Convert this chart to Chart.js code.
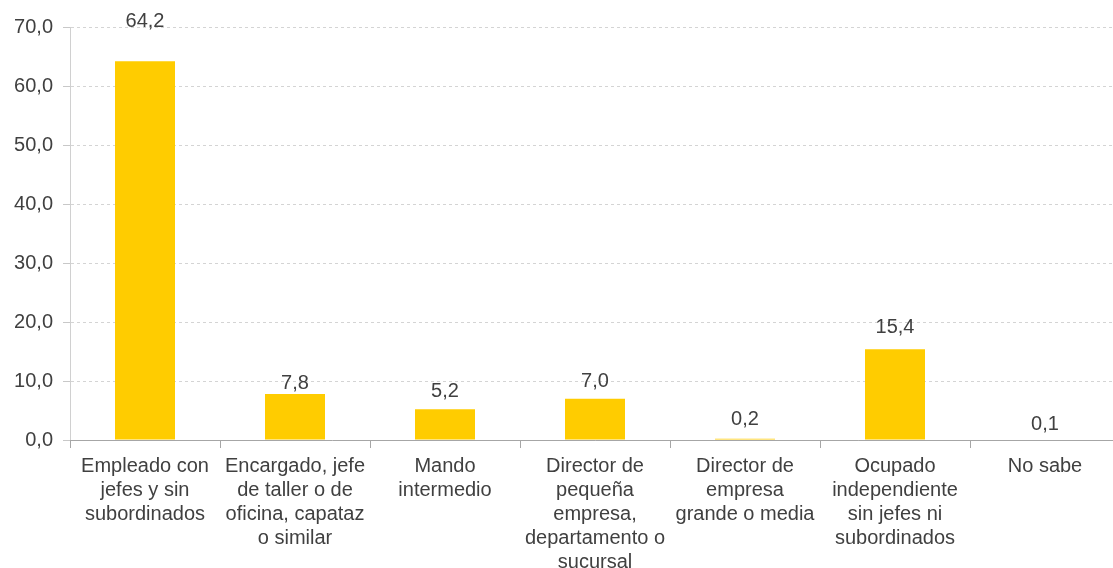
<!DOCTYPE html>
<html>
<head>
<meta charset="utf-8">
<script src="https://cdn.jsdelivr.net/npm/chart.js@4"></script>
<style>
    html, body { margin: 0; padding: 0; background: #fff; overflow: hidden; }
    #wrap { width: 1120px; height: 568px; position: relative; }
</style>
</head>
<body>
<div id="wrap"><canvas id="puestoChart"></canvas></div>
<script>
const categories = [
    ["Empleado con", "jefes y sin", "subordinados"],
    ["Encargado, jefe", "de taller o de", "oficina, capataz", "o similar"],
    ["Mando", "intermedio"],
    ["Director de", "pequeña", "empresa,", "departamento o", "sucursal"],
    ["Director de", "empresa", "grande o media"],
    ["Ocupado", "independiente", "sin jefes ni", "subordinados"],
    ["No sabe"],
];
const values = [64.2, 7.8, 5.2, 7.0, 0.2, 15.4, 0.1];
const yTicks = [0, 10, 20, 30, 40, 50, 60, 70];

// gap between bar top and label baseline, as placed in the original
const labelGap = [34, 5, 12, 12, 14, 16, 9];

const FONT = "'Liberation Sans', Arial, sans-serif";
const TEXT = "#404040";
const fmt = (v) => v.toFixed(1).replace(".", ",");

// draw the value above each bar
const valueLabels = {
    id: "valueLabels",
    afterDatasetsDraw(chart) {
        const ctx = chart.ctx;
        const meta = chart.getDatasetMeta(0);
        ctx.save();
        ctx.font = "20px " + FONT;
        ctx.fillStyle = TEXT;
        ctx.textAlign = "center";
        ctx.textBaseline = "alphabetic";
        meta.data.forEach((bar, i) => {
            ctx.fillText(fmt(values[i]), bar.x, bar.y - labelGap[i]);
        });
        ctx.restore();
    },
};

function initializeChart() {
    const ctx = document.getElementById("puestoChart");
    if (!ctx) return;

    const config = {
        type: "bar",
        data: {
            labels: categories,
            datasets: [
                {
                    data: values,
                    backgroundColor: "#ffcc00",
                    borderWidth: 0,
                    categoryPercentage: 1,
                    barPercentage: 0.4,
                },
            ],
        },
        options: {
            responsive: true,
            maintainAspectRatio: false,
            animation: false,
            layout: {
                padding: { top: 27, right: 0, left: 0, bottom: 0 },
            },
            plugins: {
                legend: { display: false },
                tooltip: { enabled: false },
            },
            scales: {
                y: {
                    min: 0,
                    max: 70,
                    afterBuildTicks: (axis) => {
                        axis.ticks = yTicks.map((v) => ({ value: v }));
                    },
                    afterFit: (axis) => {
                        axis.width = 70;
                    },
                    ticks: {
                        color: TEXT,
                        font: { family: FONT, size: 20, lineHeight: 1.2 },
                        padding: 10,
                        callback: (v) => fmt(v),
                    },
                    grid: {
                        color: "#d4d4d4",
                        tickBorderDash: [],
                        tickColor: "#c8c8c8",
                        tickLength: 7,
                    },
                    // in v4 the dash here applies to the grid lines
                    border: { color: "#d0d0d0", width: 1, dash: [3, 3] },
                },
                x: {
                    afterFit: (axis) => {
                        axis.height = 128;
                    },
                    ticks: {
                        color: TEXT,
                        font: { family: FONT, size: 20, lineHeight: 1.2 },
                        maxRotation: 0,
                        autoSkip: false,
                        padding: 6,
                    },
                    grid: {
                        offset: true,
                        drawOnChartArea: false,
                        tickColor: "#a6a6a6",
                        tickLength: 8,
                    },
                    border: { color: "#a6a6a6", width: 1 },
                },
            },
        },
        plugins: [valueLabels],
    };

    try {
        new Chart(ctx, config);
    } catch (error) {
        console.error("Chart initialization error:", error);
    }
}

document.addEventListener("DOMContentLoaded", initializeChart);
</script>
</body>
</html>
